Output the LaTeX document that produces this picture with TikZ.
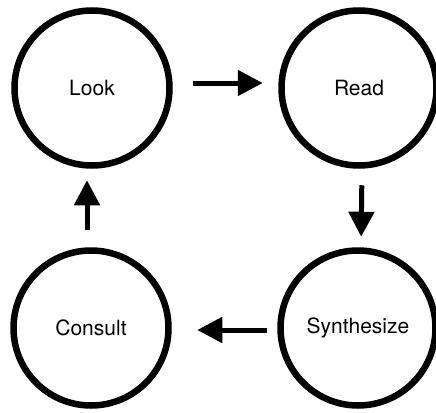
\documentclass[tikz,border=0pt]{standalone}
\usepackage{fontspec}
\setmainfont{TeX Gyre Heros}
\usetikzlibrary{arrows.meta}
\begin{document}
\begin{tikzpicture}[x=1pt,y=-1pt,
  stage/.style={circle,draw=black,line width=6.5pt,minimum size=155pt,inner sep=0pt,
    font=\fontsize{21}{25}\selectfont},
  arr/.style={line width=5pt,-{Triangle[length=25pt,width=25pt]}}]
\useasboundingbox (0,0) rectangle (436,412);
\node[stage] (look) at (92,88) {\raisebox{-2pt}{Look}};
\node[stage] (read) at (359,88) {\raisebox{-2pt}{Read}};
\node[stage] (consult) at (91,328) {\raisebox{-2pt}{Consult}};
\node[stage] (synth) at (358,328) {\raisebox{-1pt}{Synthesize}};
\draw[arr,shorten <=20.5pt,shorten >=15.5pt] ([yshift=5pt]look.east) -- ([yshift=5pt]read.west);
\draw[arr,shorten <=16.5pt,shorten >=10.5pt] ([xshift=3pt]read.south) -- ([xshift=3pt]synth.north);
\draw[arr,shorten <=10.5pt,shorten >=25.5pt] ([yshift=-2pt]synth.west) -- ([yshift=-2pt]consult.east);
\draw[arr,shorten <=17.5pt,shorten >=11.5pt] ([xshift=-4pt]consult.north) -- ([xshift=-5pt]look.south);
\end{tikzpicture}
\end{document}
